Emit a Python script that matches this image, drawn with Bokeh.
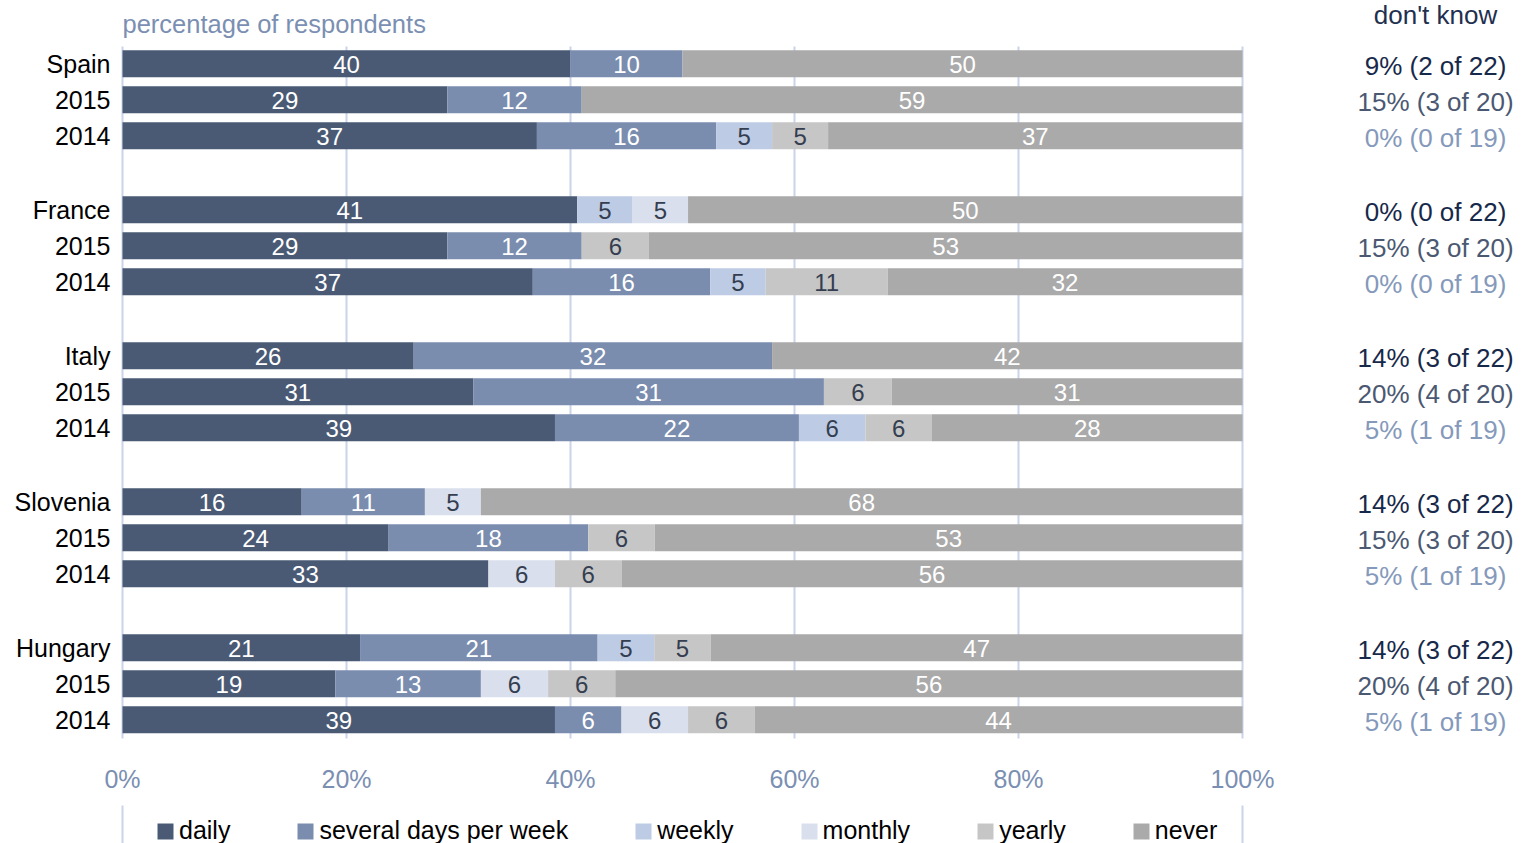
from bokeh.plotting import figure
from bokeh.models import ColumnDataSource, Range1d, Legend, LegendItem
from bokeh.core.properties import value
from bokeh.embed import file_html
from bokeh.resources import INLINE

# ---------------- data ----------------
countries = ["Spain", "France", "Italy", "Slovenia", "Hungary"]
sub_rows = ["2015", "2014"]
categories = ["daily", "several days per week", "weekly", "monthly", "yearly", "never"]

daily   = [40, 29, 37, 41, 29, 37, 26, 31, 39, 16, 24, 33, 21, 19, 39]
several = [10, 12, 16, 0, 12, 16, 32, 31, 22, 11, 18, 0, 21, 13, 6]
weekly  = [0, 0, 5, 5, 0, 5, 0, 0, 6, 0, 0, 0, 5, 0, 0]
monthly = [0, 0, 0, 5, 0, 0, 0, 0, 0, 5, 0, 6, 0, 6, 6]
yearly  = [0, 0, 5, 0, 6, 11, 0, 6, 6, 0, 6, 6, 5, 6, 6]
never   = [50, 59, 37, 50, 53, 32, 42, 31, 28, 68, 53, 56, 47, 56, 44]

dk_pct   = [9, 15, 0, 0, 15, 0, 14, 20, 5, 14, 15, 5, 14, 20, 5]
dk_count = [2, 3, 0, 0, 3, 0, 3, 4, 1, 3, 3, 1, 3, 4, 1]
dk_total = [22, 20, 19, 22, 20, 19, 22, 20, 19, 22, 20, 19, 22, 20, 19]

x_ticks = [0, 20, 40, 60, 80, 100]

# ---------------- styles ----------------
FONT = "Liberation Sans"
cat_colors = ["#4a5a75", "#7a8daf", "#bdcce4", "#d9dfec", "#c6c6c6", "#aaaaaa"]
lbl_colors = ["#ffffff", "#ffffff", "#343e50", "#343e50", "#343e50", "#ffffff"]
dk_colors = ["#17294a", "#4b5872", "#8599bb"]
grid_color = "#c9d4e8"
axis_text_color = "#7b8fb2"

W, H = 1534, 843
ORIGIN = 122          # pixel position of 0 %
PX = 11.2             # pixels per percent

# layout: rows in pixel units (y grows downward)
TOP0, ROW_STEP, GROUP_STEP = 63.3, 36, 146
row_y, row_labels, row_kind = [], [], []
for g, c in enumerate(countries):
    for i, lab in enumerate([c] + sub_rows):
        row_y.append(TOP0 + g * GROUP_STEP + i * ROW_STEP)
        row_labels.append(lab)
        row_kind.append(i)

p = figure(width=W, height=H, output_backend="svg", toolbar_location=None,
           x_range=Range1d(-ORIGIN / PX, (W - ORIGIN) / PX), y_range=Range1d(H, 0),
           x_axis_location=None, y_axis_location=None,
           min_border=0, outline_line_color=None,
           background_fill_color="white", border_fill_color="white")
p.grid.visible = False

# vertical grid lines
p.segment(x0=x_ticks, y0=[46] * len(x_ticks), x1=x_ticks, y1=[738] * len(x_ticks),
          line_color=grid_color, line_width=2)

# stacked bars (segments normalised to full row width)
series = [daily, several, weekly, monthly, yearly, never]
n = len(daily)
totals = [sum(s[k] for s in series) for k in range(n)]
cum = [0.0] * n
legend_items = []
tx, ty, tt, tc = [], [], [], []
for ci, (cat, vals) in enumerate(zip(categories, series)):
    left = list(cum)
    right = [cum[k] + vals[k] * 100.0 / totals[k] for k in range(n)]
    src = ColumnDataSource(dict(y=row_y, left=left, right=right))
    r = p.hbar(y="y", left="left", right="right", height=27, source=src,
               fill_color=cat_colors[ci], line_color=None)
    legend_items.append(LegendItem(label=cat, renderers=[r]))
    for k in range(n):
        if vals[k] > 0:
            tx.append((left[k] + right[k]) / 2)
            ty.append(row_y[k] + 1)
            tt.append(str(vals[k]))
            tc.append(lbl_colors[ci])
    cum = right

p.text(x="x", y="y", text="t", text_color="c",
       source=ColumnDataSource(dict(x=tx, y=ty, t=tt, c=tc)),
       text_font=value(FONT), text_font_size="24px",
       text_align="center", text_baseline="middle")

# row (category) labels
p.text(x=[-12 / PX] * n, y=[y + 0.5 for y in row_y], text=row_labels,
       text_font=value(FONT), text_font_size="25px", text_color="#000000",
       text_align="right", text_baseline="middle")

# x tick labels
p.text(x=x_ticks, y=[778] * len(x_ticks), text=[f"{t}%" for t in x_ticks],
       text_font=value(FONT), text_font_size="25px", text_color=axis_text_color,
       text_align="center", text_baseline="middle")

# subtitle
p.text(x=[0], y=[23], text=["percentage of respondents"],
       text_font=value(FONT), text_font_size="25.5px", text_color=axis_text_color,
       text_align="left", text_baseline="middle")

# don't know column
DK_X = (1435 - ORIGIN) / PX
p.text(x=[DK_X], y=[14.5], text=["don't know"],
       text_font=value(FONT), text_font_size="26px", text_color="#1f3050",
       text_align="center", text_baseline="middle")
dk_text = [f"{a}% ({b} of {c})" for a, b, c in zip(dk_pct, dk_count, dk_total)]
p.text(x=[DK_X] * n, y=[y + 2.5 for y in row_y], text=dk_text,
       text_color=[dk_colors[k] for k in row_kind],
       text_font=value(FONT), text_font_size="26px",
       text_align="center", text_baseline="middle")

# legend side lines
p.segment(x0=[0, 100], y0=[805, 805], x1=[0, 100], y1=[H + 10, H + 10],
          line_color=grid_color, line_width=2)

legend = Legend(items=legend_items, orientation="horizontal", location=(ORIGIN + 33, -2),
                glyph_width=20, glyph_height=20, label_standoff=4, spacing=65,
                padding=0, margin=0, border_line_color=None, background_fill_alpha=0,
                label_text_font=FONT, label_text_font_size="25px",
                label_text_color="#000000")
p.add_layout(legend)

open("out.html", "w").write(file_html(p, INLINE))
